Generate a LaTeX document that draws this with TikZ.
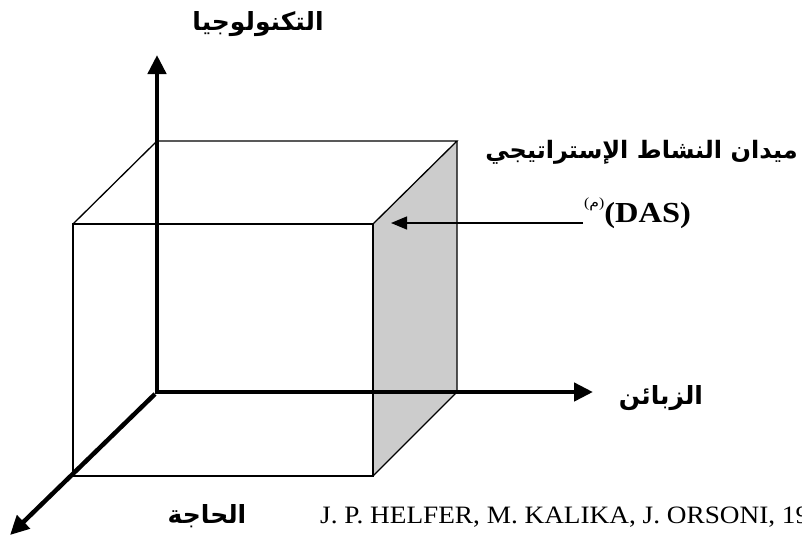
\documentclass[tikz,border=0pt]{standalone}
\usepackage{fontspec}
\setmainfont{Liberation Serif}
\newfontfamily\arabicfont[Script=Arabic]{DejaVu Sans}
\TeXXeTstate=1
\usetikzlibrary{arrows.meta}
\begin{document}
\begin{tikzpicture}[x=1pt,y=-1pt,
  boxline/.style={line width=1.3pt, line join=miter},
  axisline/.style={line width=4.5pt,-{Triangle[width=18pt,length=19pt]}},
  pointer/.style={line width=1.3pt,-{Triangle[width=13pt,length=16pt]}},
  arlabel/.style={font=\arabicfont\bfseries\fontsize{25}{30}\selectfont, inner sep=0pt},
  latlabel/.style={inner sep=0pt}]
\useasboundingbox (0,0) rectangle (802,539);
% box corners
\coordinate (F1) at (73,224);
\coordinate (F2) at (373,224);
\coordinate (F3) at (373,476);
\coordinate (F4) at (73,476);
\coordinate (B1) at (157,141);
\coordinate (B2) at (457,141);
\coordinate (B3) at (457,392);
\coordinate (O) at (157,392);
% shaded right face
\fill[gray!40] (F2) -- (B2) -- (B3) -- (F3) -- cycle;
% box edges
\draw[boxline] (F1) rectangle (F3);
\draw[boxline] (F1) -- (B1) -- (B2) -- (F2);
\draw[boxline] (B2) -- (B3) -- (F3);
% axes
\coordinate (Ytip) at (157,55);
\coordinate (Xtip) at (593,392);
\coordinate (Ztip) at (10,535);
\coordinate (Ostart) at (154.75,392);
\coordinate (Overt) at (157,394.25);
\coordinate (Odiag) at (155,394);
\draw[axisline] (Overt) -- (Ytip);
\draw[axisline] (Ostart) -- (Xtip);
\draw[axisline] (Odiag) -- (Ztip);
% pointer to the shaded face
\coordinate (Pstart) at (583,223);
\coordinate (Ptip) at (391,223);
\draw[pointer] (Pstart) -- (Ptip);
% labels
\node[arlabel] (tech) at (258,24) {\beginR التكنولوجيا\endR};
\node[arlabel] (cust) at (661,398) {\beginR الزبائن\endR};
\node[arlabel] (need) at (207,516) {\beginR الحاجة\endR};
\node[arlabel, anchor=east, font=\arabicfont\bfseries\fontsize{24}{28}\selectfont] (das) at (798,152) {\beginR ميدان النشاط الإستراتيجي\endR};
\node[latlabel, anchor=west, xscale=1.12, font=\bfseries\fontsize{29}{32}\selectfont] (dasabbr) at (584,213)
  {\raisebox{0.5em}{\fontsize{14}{16}\selectfont\mdseries{(}{\arabicfont م}{)}}(DAS)};
\node[latlabel, anchor=west, xscale=1.09, font=\fontsize{25}{28}\selectfont] (cite) at (320,517)
  {J. P. HELFER, M. KALIKA, J. ORSONI, 19};
\end{tikzpicture}
\end{document}
